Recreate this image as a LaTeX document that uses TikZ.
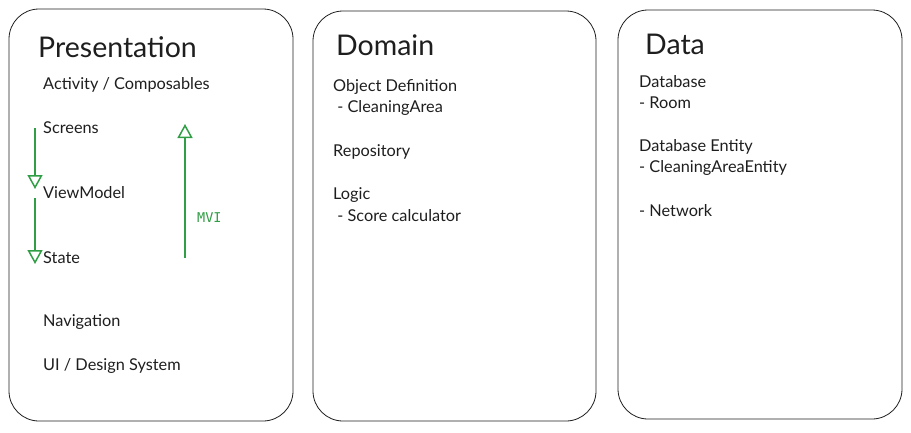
\documentclass[tikz,border=0pt]{standalone}
\usepackage{fontspec}
\setmainfont{Lato}
\setmonofont{DejaVu Sans Mono}
\usetikzlibrary{arrows.meta}
\definecolor{exgreen}{HTML}{2F9E44}
\definecolor{exline}{HTML}{1E1E1E}
\tikzset{
  panel/.style={draw=exline, line width=0.8pt, rounded corners=30pt},
  title/.style={anchor=west, inner sep=0pt, font=\fontsize{28.5}{32}\selectfont, text=exline},
  item/.style={anchor=west, inner sep=0pt, font=\fontsize{16.3}{19}\selectfont, text=exline},
  flow/.style={draw=exgreen, line width=1.5pt, -{Triangle[open, length=14pt, width=15pt, line width=1.5pt]}},
  mvi/.style={anchor=west, inner sep=0pt, text=exgreen, font=\ttfamily\fontsize{13.5}{15}\selectfont}
}
\begin{document}
\begin{tikzpicture}[x=1pt, y=-1pt]
\useasboundingbox (0,0) rectangle (911,432);
% panels
\draw[panel] (9,9) rectangle (293,421);
\draw[panel] (313,11) rectangle (596,421);
\draw[panel] (618,10) rectangle (902,419);
% Presentation
\node[title] (pt) at (38,47) {Presentation};
\node[item] (p1) at (43,85) {Activity / Composables};
\node[item] (p2) at (43,128) {Screens};
\node[item] (p3) at (43,193) {ViewModel};
\node[item] (p4) at (43,258) {State};
\node[item] (p5) at (43,322) {Navigation};
\node[item] (p6) at (43,366) {UI / Design System};
\coordinate (a1s) at (35,128);
\coordinate (a1e) at (35,189);
\coordinate (a2s) at (35,198);
\coordinate (a2e) at (35,264);
\coordinate (a3s) at (185,258);
\coordinate (a3e) at (185,124);
\draw[flow] (a1s) -- (a1e);
\draw[flow] (a2s) -- (a2e);
\draw[flow] (a3s) -- (a3e);
\node[mvi] (mv) at (197,218) {MVI};
% Domain
\node[title] (dt) at (336,45) {Domain};
\node[item] (d1) at (333,87) {Object Definition};
\node[item] (d2) at (333,108) {\ - CleaningArea};
\node[item] (d3) at (333,152) {Repository};
\node[item] (d4) at (333,195) {Logic};
\node[item] (d5) at (333,216) {\ - Score calculator};
% Data
\node[title] (tt) at (645,44) {Data};
\node[item] (t1) at (639,82) {Database};
\node[item] (t2) at (639,103) {- Room};
\node[item] (t3) at (639,147) {Database Entity};
\node[item] (t4) at (639,168) {- CleaningAreaEntity};
\node[item] (t5) at (639,211) {- Network};
\end{tikzpicture}
\end{document}
